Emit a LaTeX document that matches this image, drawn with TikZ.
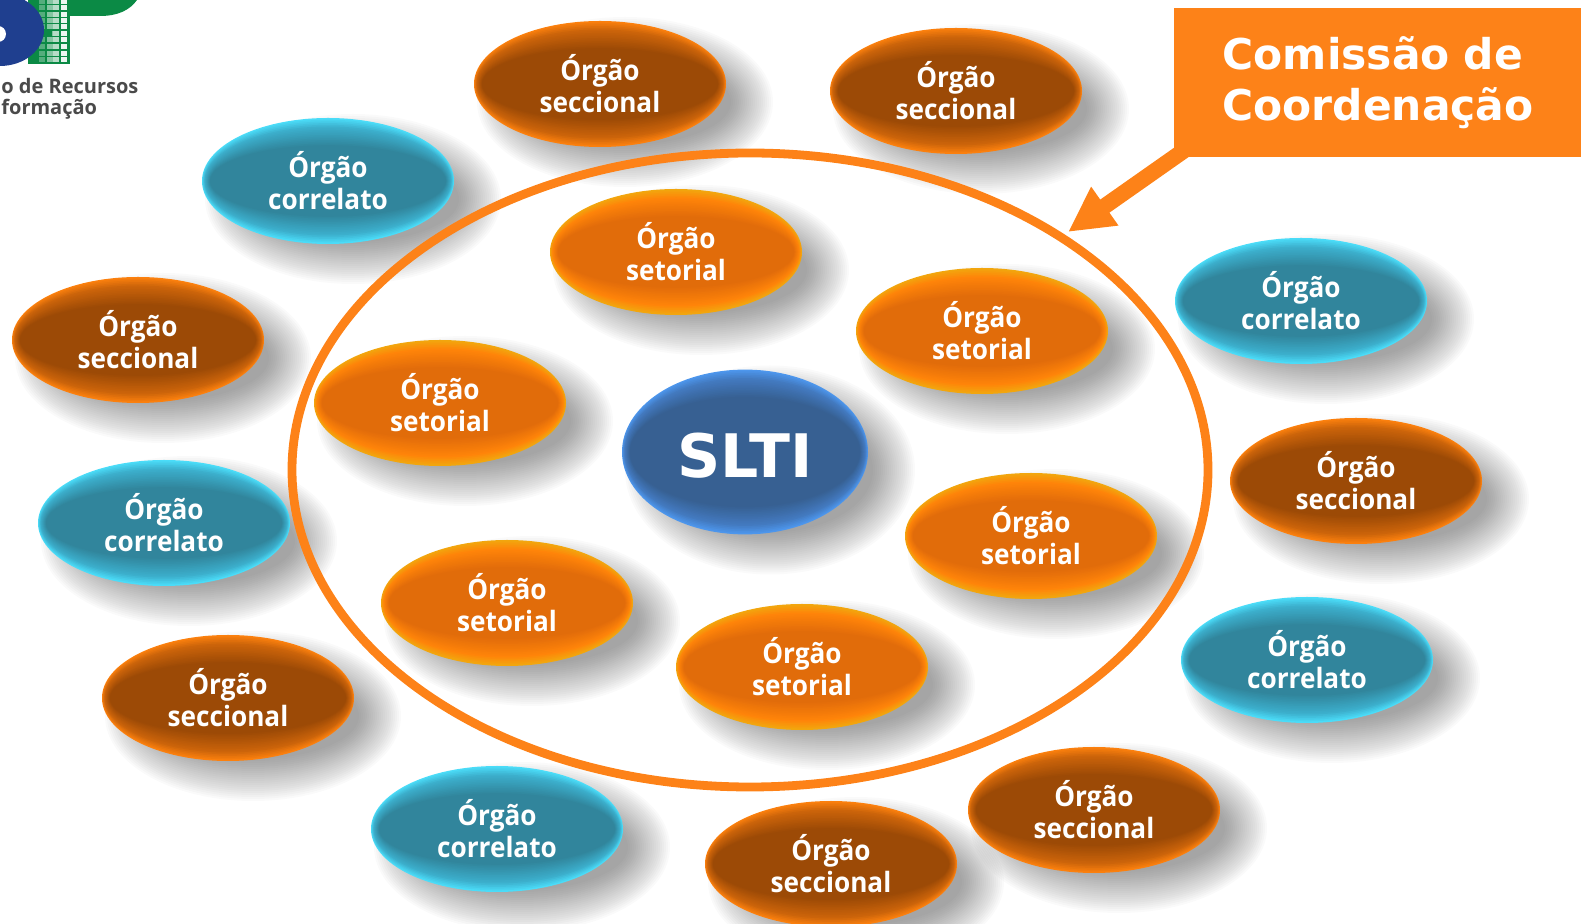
\documentclass[tikz,border=0pt]{standalone}
\usepackage{fontspec}
\setmainfont{Open Sans}[FakeStretch=0.935]
\newfontfamily\titlefont{DejaVu Sans}
\newfontfamily\logofont{Open Sans}
\usetikzlibrary{shapes.geometric,arrows.meta}
\definecolor{ringorange}{HTML}{FD8218}
\definecolor{secMain}{HTML}{9C4A06}
\definecolor{secMid}{HTML}{CC640A}
\definecolor{secRim}{HTML}{FB800E}
\definecolor{setMain}{HTML}{E16C0A}
\definecolor{setMid}{HTML}{FF8409}
\definecolor{setRim}{HTML}{F2A60E}
\definecolor{corMain}{HTML}{31859C}
\definecolor{corMid}{HTML}{3CAFCC}
\definecolor{corRim}{HTML}{4BDCF8}
\definecolor{sltMain}{HTML}{376092}
\definecolor{sltMid}{HTML}{437AC0}
\definecolor{sltRim}{HTML}{4D96EC}
\definecolor{logoBlue}{HTML}{1F3F8F}
\definecolor{logoGreen}{HTML}{0B8A45}
\definecolor{logoText}{HTML}{4A4A4A}
\newcommand\bevelfill[5]{%
  \foreach \k in {1,...,5}{%
    \pgfmathsetmacro\mixv{100-\k*20}%
    \fill[#1!\mixv!#2] (path picture bounding box.center)
      ellipse [x radius={#4-0.25pt*\k}, y radius={#5-0.85pt*\k}];
  }%
  \foreach \k in {6,...,16}{%
    \pgfmathsetmacro\mixv{100-(\k-5)*100/11}%
    \fill[#2!\mixv!#3] (path picture bounding box.center)
      ellipse [x radius={#4-0.25pt*\k}, y radius={#5-0.85pt*\k}];
  }%
}
\tikzset{
  x=0.5pt,y=-0.5pt,
  blob/.style n args={5}{ellipse,inner sep=0pt,minimum width=2*#4,minimum height=2*#5,
    fill=#1,text=white,align=center,font=\bfseries\fontsize{14}{15.9}\selectfont,
    execute at end node={\par\vspace*{2.4pt}},
    path picture={\bevelfill{#1}{#2}{#3}{#4}{#5}}},
  seccional/.style={blob={secRim}{secMid}{secMain}{63pt}{31.5pt}},
  setorial/.style={blob={setRim}{setMid}{setMain}{63pt}{31.5pt}},
  correlato/.style={blob={corRim}{corMid}{corMain}{63pt}{31.5pt}},
  central/.style={blob={sltRim}{sltMid}{sltMain}{61.5pt}{41.2pt},font=\titlefont\bfseries\fontsize{30}{30}\selectfont,
    execute at end node={}},
  ringshape/.style={ellipse,draw=ringorange,line width=4.4pt,minimum width=458pt,minimum height=317pt,inner sep=0pt},
  calloutbox/.style={fill=ringorange,text=white,minimum width=203.5pt,minimum height=74.5pt,inner sep=0pt,
    align=left,text width=203.5pt,font=\titlefont\bfseries\fontsize{21.2}{25.5}\selectfont},
  callarrow/.style={draw=ringorange,line width=8pt,-{Triangle[length=22.5pt,width=22pt]}},
  logotext/.style={text=logoText,anchor=base west,inner sep=0pt,font=\logofont\bfseries\fontsize{10}{12}\selectfont},
}
\begin{document}
\begin{tikzpicture}
\useasboundingbox (0,0) rectangle (1587,924);
% soft shadows
\foreach \cx/\cy/\rx/\ry in {
  600/84/126/63, 956/91/126/63, 138/340/126/63, 1356/481/126/63,
  228/698/126/63, 831/864/126/63, 1094/810/126/63,
  328/181/126/63, 1301/301/126/63, 164/523/126/63, 1307/660/126/63, 497/829/126/63,
  676/252/126/63, 982/331/126/63, 440/403/126/63, 1031/536/126/63, 507/603/126/63, 802/667/126/63,
  745/452/123/82.5}{
  \foreach \s in {0,...,21}{
    \fill[black,opacity=0.02] (\cx+25,\cy+18) ellipse [x radius={(\rx+22-\s*2)*0.5pt}, y radius={(\ry+22-\s*2)*0.5pt}];
  }
}
% logo
\fill[logoGreen] (70,0) -- (137,0) .. controls (130,10) and (118,16) .. (100,16) -- (70,16) -- cycle;
\fill[logoGreen] (28,0) rectangle (70,64);
\foreach \row/\ya in {0/-1,1/5,2/12,3/18,4/24,5/31,6/37,7/44,8/51,9/57}{
  \foreach \col/\xa/\sh in {0/39/30,1/47/50,2/53/70,3/61/92}{
    \fill[white!\sh!logoGreen] (\xa,\ya) rectangle +(5.5,5);
  }
}
\fill[logoGreen] (39,31) rectangle (52,36);
\fill[logoBlue] (0,30) ellipse [x radius=22pt, y radius=18pt];
\fill[white] (-2,34) circle [radius=4pt];
\node[logotext] (logoa) at (1,94) {o de Recursos};
\node[logotext] (logob) at (1,115) {formação};
% ring, callout
\node[ringshape] (ring) at (750,470) {};
\coordinate (calloutfoot) at (1189,147);
\coordinate (ringtip) at (1068,232);
\draw[callarrow] (calloutfoot) -- (ringtip);
\node[calloutbox] (callout) at (1377.5,82.5) {\hspace*{24.3pt}Comissão de\\\hspace*{24.3pt}Coordenação};
% seccional
\node[seccional] (s1) at (600,84) {Órgão\\seccional};
\node[seccional] (s2) at (956,91) {Órgão\\seccional};
\node[seccional] (s3) at (138,340) {Órgão\\seccional};
\node[seccional] (s4) at (1356,481) {Órgão\\seccional};
\node[seccional] (s5) at (228,698) {Órgão\\seccional};
\node[seccional] (s6) at (831,864) {Órgão\\seccional};
\node[seccional] (s7) at (1094,810) {Órgão\\seccional};
% correlato
\node[correlato] (c1) at (328,181) {Órgão\\correlato};
\node[correlato] (c2) at (1301,301) {Órgão\\correlato};
\node[correlato] (c3) at (164,523) {Órgão\\correlato};
\node[correlato] (c4) at (1307,660) {Órgão\\correlato};
\node[correlato] (c5) at (497,829) {Órgão\\correlato};
% setorial
\node[setorial] (t1) at (676,252) {Órgão\\setorial};
\node[setorial] (t2) at (982,331) {Órgão\\setorial};
\node[setorial] (t3) at (440,403) {Órgão\\setorial};
\node[setorial] (t4) at (1031,536) {Órgão\\setorial};
\node[setorial] (t5) at (507,603) {Órgão\\setorial};
\node[setorial] (t6) at (802,667) {Órgão\\setorial};
% centre
\node[central] (slti) at (745,452) {\raisebox{-1.7pt}[\height][\depth]{SLTI}};
\end{tikzpicture}
\end{document}
